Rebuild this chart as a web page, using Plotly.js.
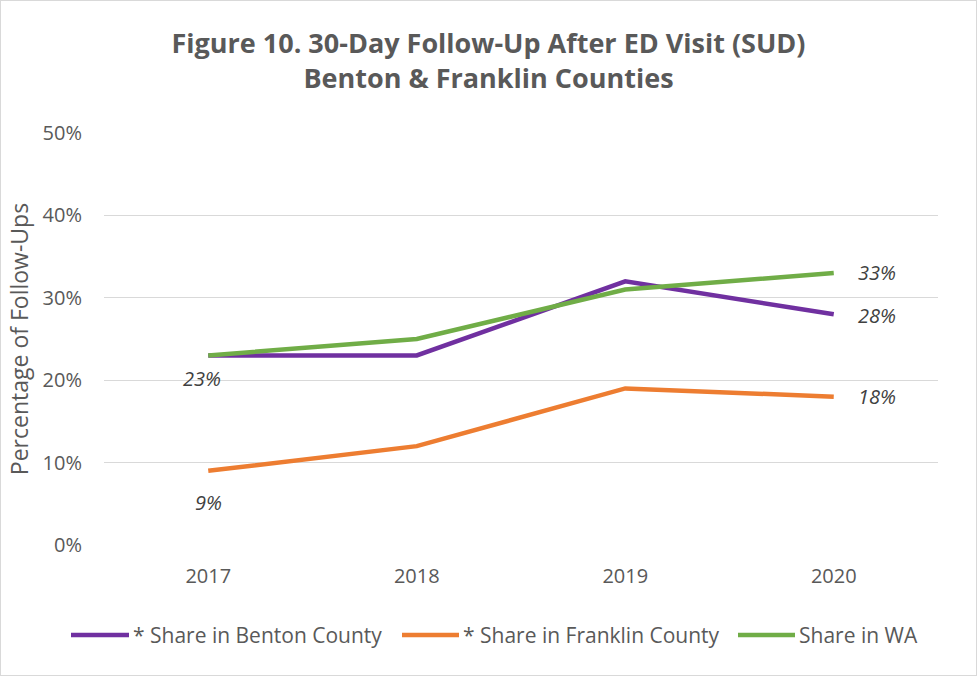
<!DOCTYPE html>
<html>
<head>
<meta charset="utf-8">
<script src="https://cdn.plot.ly/plotly-3.0.1.min.js"></script>
<style>
html,body{margin:0;padding:0;background:#fff;}
#chart{width:977px;height:676px;}
</style>
</head>
<body>
<div id="chart"></div>
<script>
const years = ['2017', '2018', '2019', '2020'];
const benton = [23, 23, 32, 28];
const franklin = [9, 12, 19, 18];
const wa = [23, 25, 31, 33];
const seriesNames = ['* Share in Benton County', '* Share in Franklin County', 'Share in WA'];
const colors = ['#7030A0', '#ED7D31', '#70AD47'];
const yTicks = [0, 10, 20, 30, 40, 50];

const font = '"Open Sans", sans-serif';
const W = 977, H = 676, M = {l: 104, r: 39, t: 133, b: 131};
const pw = W - M.l - M.r, ph = H - M.t - M.b;
const px2x = p => (p - M.l) / pw;
const py2y = p => (H - M.b - p) / ph;

const traces = [benton, franklin, wa].map((vals, i) => ({
  x: years, y: vals, type: 'scatter', mode: 'lines', name: seriesNames[i],
  line: {color: colors[i], width: 4.5}, hoverinfo: 'skip', showlegend: false
}));

const lbl = (xi, v, xshift, yshift) => ({
  x: xi, y: v, xref: 'x', yref: 'y', text: '<i>' + v + '%</i>', showarrow: false,
  xshift: xshift, yshift: yshift, font: {family: font, size: 20, color: '#404040'}
});
const annotations = [
  lbl(0, wa[0], -6, -23),
  lbl(0, franklin[0], 0, -32),
  lbl(3, wa[3], 43, 1),
  lbl(3, benton[3], 43, -1),
  lbl(3, franklin[3], 43, 0)
];

// custom legend (positions in pixels)
const legY = 635;
const legLines = [[71, 129], [402, 459], [738, 795]];
const shapes = [];
legLines.forEach((seg, i) => {
  shapes.push({type: 'line', xref: 'paper', yref: 'paper',
    x0: px2x(seg[0]), x1: px2x(seg[1]), y0: py2y(legY), y1: py2y(legY),
    line: {color: colors[i], width: 4.5}});
  annotations.push({xref: 'paper', yref: 'paper', x: px2x(seg[1] + 2), y: py2y(legY),
    xanchor: 'left', yanchor: 'middle', showarrow: false, text: seriesNames[i],
    font: {family: font, size: 21, color: '#595959'}});
});

const layout = {
  width: W, height: H,
  margin: M,
  paper_bgcolor: '#fff', plot_bgcolor: '#fff',
  title: {
    text: '<b>Figure 10. 30-Day Follow-Up After ED Visit (SUD)<br>Benton &amp; Franklin Counties</b>',
    font: {family: font, size: 27, color: '#595959'},
    x: 0.5, xanchor: 'center', y: 0.922, yanchor: 'top'
  },
  xaxis: {
    type: 'category', range: [-0.5, 3.5], showgrid: false, zeroline: false,
    showline: false, ticks: '', ticklabelstandoff: 17,
    tickfont: {family: font, size: 20, color: '#595959'}
  },
  yaxis: {
    range: [0, 50], tickvals: yTicks, ticktext: yTicks.map(t => t + '%'),
    showgrid: true, gridcolor: '#D9D9D9', gridwidth: 1.3, zeroline: false,
    showline: false, ticks: '', ticklen: 0, ticklabelstandoff: 21,
    tickfont: {family: font, size: 20, color: '#595959'},
    title: {text: 'Percentage of Follow-Ups', font: {family: font, size: 23, color: '#595959'}, standoff: 7}
  },
  showlegend: false,
  annotations: annotations,
  shapes: shapes
};
Plotly.newPlot('chart', traces, layout, {displayModeBar: false, staticPlot: true}).then(() => {
  const svg = document.querySelector('#chart .main-svg');
  const r = document.createElementNS('http://www.w3.org/2000/svg', 'rect');
  r.setAttribute('x', 0.5); r.setAttribute('y', 0.5); r.setAttribute('width', 976); r.setAttribute('height', 675);
  r.setAttribute('fill', 'none'); r.setAttribute('stroke', '#D9D9D9'); r.setAttribute('stroke-width', 1);
  svg.appendChild(r);
});
</script>
</body>
</html>
